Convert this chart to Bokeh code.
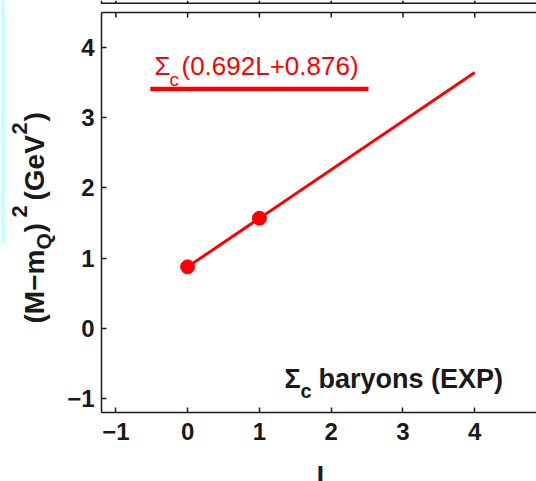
from math import pi

from bokeh.core.properties import value
from bokeh.embed import file_html
from bokeh.models import FixedTicker, LinearAxis, Range1d
from bokeh.plotting import figure
from bokeh.resources import INLINE

# Sigma_c baryons: orbital number L against (M - m_Q)^2 in GeV^2
L_exp = [0, 1]
m2_exp = [0.876, 1.568]

# linear trajectory quoted in the key: 0.692 L + 0.876
fit_slope = 0.692
fit_intercept = 0.876
L_fit = [0, 4]
m2_fit = [fit_slope * l + fit_intercept for l in L_fit]

x_ticks = [-1, 0, 1, 2, 3, 4]
y_ticks = [-1, 0, 1, 2, 3, 4]
tick_text = {-1: "\u22121", 0: "0", 1: "1", 2: "2", 3: "3", 4: "4"}

W, H = 536, 481

# axes box in data units; the canvas reaches a little beyond it on the left,
# bottom and top so that the titles fit in the same frame
AX_X0, AX_Y0, AX_Y1 = -1.2, -1.2, 4.5
Y_UPPER = 4.632          # bottom spine of the panel stacked above
SX, SY = 71.78, 70.19    # pixels per unit
X_LO, X_HI = AX_X0 - 101 / SX, AX_X0 + (W - 101) / SX
Y_HI = AX_Y1 + 12 / SY
Y_LO = Y_HI - H / SY

RED = "#ff0000"
INK = "#1a1a1a"
FONT = value("Liberation Sans")
BASE_SHIFT = 0.37        # em fraction to lift the drawn baseline by

def cx(px):
    return X_LO + px / SX

def cy(py):
    return Y_HI - py / SY

p = figure(
    width=W, height=H, title=None, output_backend="svg", toolbar_location=None,
    x_range=Range1d(X_LO, X_HI), y_range=Range1d(Y_LO, Y_HI),
    min_border=0, x_axis_type=None, y_axis_type=None,
)
p.outline_line_color = None
p.background_fill_color = "white"
p.border_fill_color = "white"
p.xgrid.visible = False
p.ygrid.visible = False

def style_axis(ax, ticks):
    ax.ticker = FixedTicker(ticks=ticks)
    ax.major_label_overrides = tick_text
    ax.axis_line_color = INK
    ax.axis_line_width = 1.5
    ax.major_tick_line_color = INK
    ax.major_tick_line_width = 1.5
    ax.major_tick_in = 5
    ax.major_tick_out = 0
    ax.minor_tick_line_color = None
    ax.major_label_text_font = "Liberation Sans"
    ax.major_label_text_font_size = "24px"
    ax.major_label_text_font_style = "bold"
    ax.major_label_text_color = INK

xaxis = LinearAxis(fixed_location=AX_Y0, bounds=(AX_X0, X_HI))
style_axis(xaxis, x_ticks)
xaxis.major_label_standoff = 10
p.add_layout(xaxis, "below")

yaxis = LinearAxis(fixed_location=AX_X0, bounds=(AX_Y0, AX_Y1))
style_axis(yaxis, y_ticks)
yaxis.major_label_standoff = 7
p.add_layout(yaxis, "left")

# top spine with inward ticks, and the bottom spine of the panel above
n = len(x_ticks)
p.line([AX_X0, X_HI], [AX_Y1, AX_Y1], line_color=INK, line_width=1.5)
p.segment(x0=x_ticks, y0=[AX_Y1] * n, x1=x_ticks, y1=[AX_Y1 - 5 / SY] * n,
          line_color=INK, line_width=1.5)
p.line([AX_X0, AX_X0, X_HI], [Y_HI, Y_UPPER, Y_UPPER], line_color=INK, line_width=1.5)
p.segment(x0=x_ticks, y0=[Y_UPPER] * n, x1=x_ticks, y1=[Y_HI] * n,
          line_color=INK, line_width=1.5)

# pale strip at the left edge
p.quad(left=[X_LO], right=[cx(5)], bottom=[cy(243)], top=[Y_HI],
       fill_color="#ccffff", line_color=None)

# trajectory and measured states
p.line(L_fit, m2_fit, line_color=RED, line_width=3)
p.scatter(L_exp, m2_exp, size=14, color=RED)

# key: label above a sample line
p.line([-0.52, 2.52], [3.41, 3.41], line_color=RED, line_width=4.5)

def txt(px, py, text, size, color, style="normal", vertical=False, align="left"):
    """Place text by its baseline origin given in canvas pixels."""
    lift = BASE_SHIFT * size
    if vertical:
        px, angle = px - lift, pi / 2
    else:
        py, angle = py - lift, 0.0
    p.text(x=[cx(px)], y=[cy(py)], text=[text], text_font=FONT,
           text_font_size=f"{size}px", text_font_style=style, text_color=color,
           angle=angle, text_align=align, text_baseline="alphabetic")

txt(154, 75, "\u03a3", 26, RED)
txt(169, 86, "c", 19, RED)
txt(181, 75, "(0.692L+0.876)", 26, RED)

txt(284, 388, "\u03a3", 27, INK, "bold")
txt(300, 398, "c", 20, INK, "bold")
txt(318, 388, "baryons (EXP)", 27, INK, "bold")

# axis titles
txt(320, 486, "l", 28, INK, "bold", align="center")

ylab = [
    (44, 323, "(M\u2212m", 28),
    (51, 249, "Q", 21),
    (44, 232, ")", 28),
    (27, 217, "2", 22),
    (44, 200, "(GeV", 28),
    (27, 134, "2", 22),
    (44, 121, ")", 28),
]
for px, py, piece, size in ylab:
    txt(px, py, piece, size, INK, "bold", vertical=True)

open("out.html", "w").write(file_html(p, INLINE))
